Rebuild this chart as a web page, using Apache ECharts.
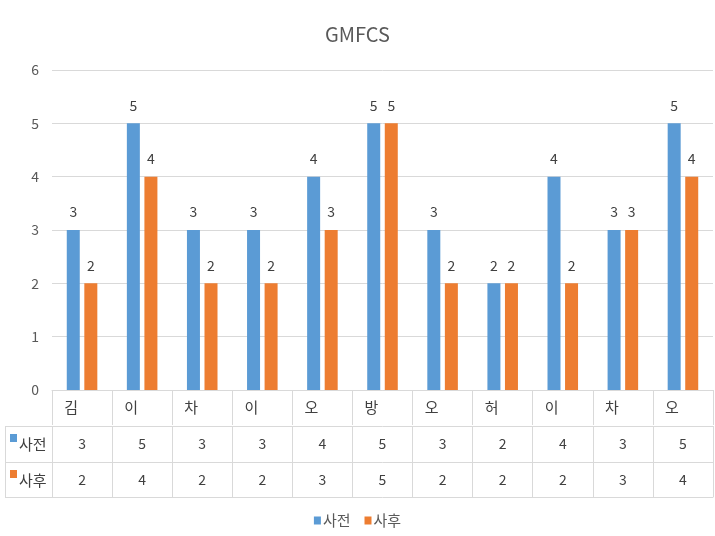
<!DOCTYPE html>
<html>
<head>
<meta charset="utf-8">
<script src="https://cdn.jsdelivr.net/npm/echarts/dist/echarts.min.js"></script>
<style>
  html, body { margin: 0; padding: 0; background: #ffffff; }
  #chart { width: 715px; height: 536px; }
</style>
</head>
<body>
<div id="chart"></div>
<script>
// GMFCS levels before (사전) and after (사후), one column per participant
const categories = ['김', '이', '차', '이', '오', '방', '오', '허', '이', '차', '오'];
const seriesNames = ['사전', '사후'];
const beforeValues = [3, 5, 3, 3, 4, 5, 3, 2, 4, 3, 5];
const afterValues = [2, 4, 2, 2, 3, 5, 2, 2, 2, 3, 4];
const seriesColors = ['#5B9BD5', '#ED7D31'];

const FONT = '"Noto Sans CJK KR", "Noto Sans", sans-serif';
const GRID_LINE = '#d9d9d9';
const TEXT = '#404040';

// Plot geometry shared by the grid and the data-table rows below it
const GRID_LEFT = 52, GRID_RIGHT = 2, GRID_TOP = 70, GRID_BOTTOM = 146;
const ROW_OFFSETS = [0, 36, 72, 107];

const chart = echarts.init(document.getElementById('chart'), null, { renderer: 'canvas' });

// One category axis per table row: names, then values of each series
function tableAxis(rowData, offset, tickLen, labelOpts) {
  return {
    type: 'category',
    data: rowData,
    position: 'bottom',
    offset: offset,
    boundaryGap: true,
    axisLine: { show: true, lineStyle: { color: GRID_LINE, width: 1 } },
    axisTick: { show: tickLen > 0, length: tickLen, inside: false,
                lineStyle: { color: GRID_LINE, width: 1 } },
    axisLabel: Object.assign({ show: true, interval: 0, color: TEXT,
                               fontFamily: FONT, fontSize: 14, margin: 11 }, labelOpts || {}),
    splitLine: { show: false }
  };
}

const xAxes = [
  tableAxis(categories, ROW_OFFSETS[0], 35, { fontSize: 15, margin: 10, padding: [0, 22, 0, 0] }),
  tableAxis(beforeValues.map(String), ROW_OFFSETS[1], 36),
  tableAxis(afterValues.map(String), ROW_OFFSETS[2], 35),
  tableAxis(categories, ROW_OFFSETS[3], 0, { show: false })
];

// Left header cells of the data table (series key)
const rowTop = 390;
const legendCells = [];
const lineStyle = { stroke: GRID_LINE, lineWidth: 1 };
[ROW_OFFSETS[1], ROW_OFFSETS[2], ROW_OFFSETS[3]].forEach(function (off) {
  legendCells.push({ type: 'line', silent: true,
    shape: { x1: 5, y1: rowTop + off + 0.5, x2: GRID_LEFT, y2: rowTop + off + 0.5 }, style: lineStyle });
});
legendCells.push({ type: 'line', silent: true,
  shape: { x1: 5.5, y1: rowTop + ROW_OFFSETS[1], x2: 5.5, y2: rowTop + ROW_OFFSETS[3] }, style: lineStyle });
seriesNames.forEach(function (name, i) {
  const top = rowTop + ROW_OFFSETS[i + 1];
  legendCells.push({ type: 'rect', silent: true,
    shape: { x: 10, y: top + 8, width: 7, height: 8 }, style: { fill: seriesColors[i] } });
  legendCells.push({ type: 'text', silent: true, x: 19, y: top + 18,
    style: { text: name, fill: TEXT, font: '15px ' + FONT, textVerticalAlign: 'middle', verticalAlign: 'middle' } });
});

const barLabel = {
  show: true, position: 'top', distance: 11,
  color: TEXT, fontFamily: FONT, fontSize: 14
};

chart.setOption({
  animation: false,
  backgroundColor: '#ffffff',
  title: {
    text: 'GMFCS', left: 'center', top: 19,
    textStyle: { color: '#595959', fontFamily: FONT, fontSize: 20, fontWeight: 'normal' }
  },
  legend: {
    data: seriesNames, left: 'center', top: 513, padding: 0,
    icon: 'rect', itemWidth: 7, itemHeight: 8, itemGap: 14,
    textStyle: { color: '#595959', fontFamily: FONT, fontSize: 15, padding: [0, 0, 0, -3] }
  },
  grid: { left: GRID_LEFT, right: GRID_RIGHT, top: GRID_TOP, bottom: GRID_BOTTOM, containLabel: false },
  xAxis: xAxes,
  yAxis: {
    type: 'value', min: 0, max: 6, interval: 1,
    axisLine: { show: false }, axisTick: { show: false },
    axisLabel: { color: '#595959', fontFamily: FONT, fontSize: 14, margin: 13 },
    splitLine: { show: true, lineStyle: { color: GRID_LINE, width: 1 } }
  },
  series: [
    { name: seriesNames[0], type: 'bar', xAxisIndex: 0, data: beforeValues,
      barWidth: 13, barGap: '35%', itemStyle: { color: seriesColors[0] }, label: barLabel },
    { name: seriesNames[1], type: 'bar', xAxisIndex: 0, data: afterValues,
      barWidth: 13, barGap: '35%', itemStyle: { color: seriesColors[1] }, label: barLabel }
  ],
  graphic: legendCells
});
</script>
</body>
</html>
